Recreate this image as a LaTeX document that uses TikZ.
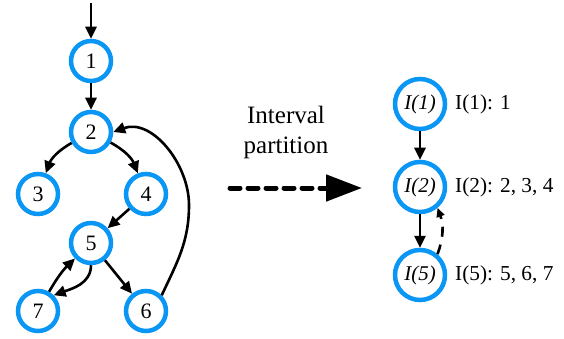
\documentclass[tikz,border=0pt]{standalone}
\usepackage{fontspec}
\setmainfont{Liberation Serif}
\usetikzlibrary{arrows.meta}
\definecolor{nodeblue}{RGB}{10,150,245}
\begin{document}
\begin{tikzpicture}[x=1pt,y=-1pt,
  vert/.style={circle,draw=nodeblue,line width=4.5pt,minimum size=40pt,inner sep=0pt,font=\fontsize{22}{22}\selectfont},
  ivert/.style={circle,draw=nodeblue,line width=4.5pt,minimum size=50pt,inner sep=0pt,font=\fontsize{21}{21}\selectfont\itshape},
  lab/.style={anchor=west,font=\fontsize{21.3}{21.3}\selectfont,inner sep=0pt},
  edge/.style={line width=2.6pt,-{Triangle[length=12pt,width=11pt]}},
  dedge/.style={line width=2.6pt,dash pattern=on 10pt off 8pt,-{Triangle[length=9pt,width=8pt]}}]
\useasboundingbox (0,0) rectangle (564,339);
\node[vert] (n1) at (91,61) {1};
\node[vert] (n2) at (91,132) {2};
\node[vert] (n3) at (38,194) {3};
\node[vert] (n4) at (146,194) {4};
\node[vert] (n5) at (91,243) {5};
\node[vert] (n7) at (38,311) {7};
\node[vert] (n6) at (146,311) {6};
\coordinate (top) at (91,3);
\draw[edge] (top) -- (n1);
\draw[edge] (n1) -- (n2);
\draw[edge] (n2) to[bend right=20] (n3);
\draw[edge] (n2) to[bend left=20] (n4);
\draw[edge] (n4) -- (n5);
\draw[edge] (n5) -- (n6);
\draw[edge] (n5.south) to[out=-90,in=20] (n7.north east);
\draw[edge] (n7) to[bend left=8] (n5);
\draw[edge] (n6.north east) to[out=65,in=-90] (189,205) to[out=90,in=20] (n2.east);
\node[font=\fontsize{25}{30}\selectfont,align=center] (txt) at (286,132) {Interval\\partition};
\coordinate (da) at (230,188);
\coordinate (db) at (362,188);
\draw[line width=5pt,dash pattern=on 10pt off 8pt,line cap=round,-{Triangle[length=36pt,width=26pt,line cap=butt]}] (da) -- (db);
\node[ivert] (i1) at (420,104) {I(1)};
\node[ivert] (i2) at (420,187) {I(2)};
\node[ivert] (i5) at (420,275) {I(5)};
\node[lab] (l1) at (455,104) {I(1): 1};
\node[lab] (l2) at (455,187) {I(2): 2, 3, 4};
\node[lab] (l5) at (455,275) {I(5): 5, 6, 7};
\draw[edge] (i1) -- (i2);
\draw[edge] (i2) -- (i5);
\draw[dedge] (i5.50) to[bend right=20] (i2.-50);
\end{tikzpicture}
\end{document}
